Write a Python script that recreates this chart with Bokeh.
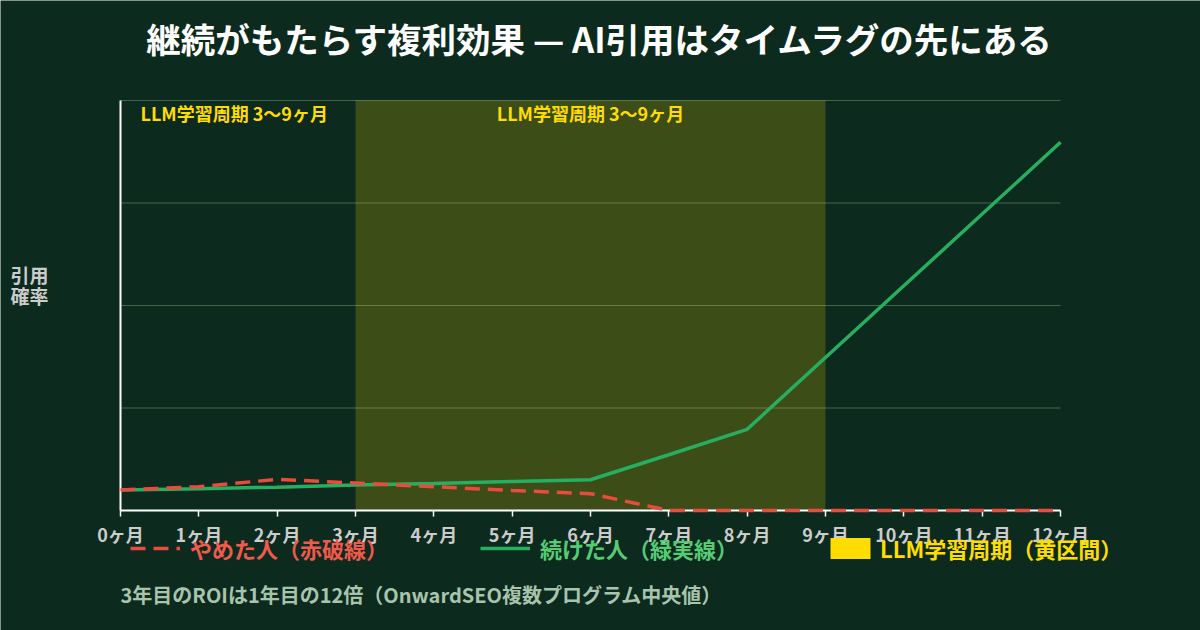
from bokeh.plotting import figure
from bokeh.models import Range1d, FixedTicker, Label, Legend, LegendItem
from bokeh.embed import file_html
from bokeh.resources import INLINE

# ---- data ----
months = [0, 1, 2, 3, 4, 5, 6, 7, 8, 9, 10, 11, 12]
tick_labels = ["0ヶ月", "1ヶ月", "2ヶ月", "3ヶ月", "4ヶ月", "5ヶ月", "6ヶ月",
               "7ヶ月", "8ヶ月", "9ヶ月", "10ヶ月", "11ヶ月", "12ヶ月"]
quit_values = [5.0, 5.8, 7.6, 6.7, 5.8, 4.9, 4.1, 0.0, 0.0, 0.0, 0.0, 0.0, 0.0]
continued_values = [5.0, 5.3, 5.7, 6.2, 6.6, 7.1, 7.5, 13.6, 19.8, 37.3, 54.8, 72.3, 89.8]
llm_start = 3
llm_end = 9
y_min = 0
y_max = 100
grid_values = [25, 50, 75, 100]

title_text = "継続がもたらす複利効果 — AI引用はタイムラグの先にある"
y_label_lines = ["引用", "確率"]
period_note = "LLM学習周期 3〜9ヶ月"
legend_labels = ["やめた人（赤破線）", "続けた人（緑実線）", "LLM学習周期（黄区間）"]
footnote = "3年目のROIは1年目の12倍（OnwardSEO複数プログラム中央値）"

# ---- style / layout (pixels) ----
FONT = "Noto Sans CJK JP"
BG = "#0d2a1e"
RED = "#e74c3c"
GREEN = "#27ae60"
YELLOW = "#ffdd00"
W, H = 1200, 630
PLOT_L, PLOT_R, PLOT_T, PLOT_B = 120, 1060, 100, 510


def px_x(px):
    return months[0] + (px - PLOT_L) * (months[-1] - months[0]) / (PLOT_R - PLOT_L)


def px_y(py):
    return y_min + (PLOT_B - py) * (y_max - y_min) / (PLOT_B - PLOT_T)


p = figure(width=W, height=H, min_border=0,
           x_range=Range1d(px_x(0), px_x(W)), y_range=Range1d(px_y(H), px_y(0)),
           output_backend="svg", toolbar_location=None,
           background_fill_color=BG, border_fill_color=BG, outline_line_color=None)

# gridlines across the plot area only
p.segment(x0=[months[0]] * len(grid_values), x1=[months[-1]] * len(grid_values),
          y0=grid_values, y1=grid_values, line_color="#46664c", line_width=1)

# shaded LLM period
p.quad(left=[llm_start], right=[llm_end], bottom=[y_min], top=[y_max],
       fill_color=YELLOW, fill_alpha=0.2, line_color=None)
legend_box = p.quad(left=[llm_start], right=[llm_end], bottom=[y_min], top=[y_max],
                    fill_color=YELLOW, fill_alpha=1.0, line_color=None, visible=False)

green = p.line(months, continued_values, line_color=GREEN, line_width=3.5)
red = p.line(months, quit_values, line_color=RED, line_width=3.5, line_dash="15 8",
             level="overlay")

# axes, drawn at the data origin
p.xgrid.visible = False
p.ygrid.visible = False

p.xaxis.fixed_location = y_min
p.xaxis.bounds = (months[0], months[-1])
p.xaxis.ticker = FixedTicker(ticks=months)
p.xaxis.major_label_overrides = {m: t for m, t in zip(months, tick_labels)}
p.xaxis.axis_line_color = "white"
p.xaxis.axis_line_width = 2
p.xaxis.major_tick_line_color = "white"
p.xaxis.major_tick_line_width = 1.5
p.xaxis.major_tick_out = 6
p.xaxis.major_tick_in = 0
p.xaxis.minor_tick_line_color = None
p.xaxis.major_label_standoff = 4
p.xaxis.major_label_text_color = "#cccccc"
p.xaxis.major_label_text_font = FONT
p.xaxis.major_label_text_font_size = "18px"
p.xaxis.major_label_text_font_style = "bold"

p.yaxis.fixed_location = months[0]
p.yaxis.bounds = (y_min, y_max)
p.yaxis.ticker = FixedTicker(ticks=[])
p.yaxis.axis_line_color = "white"
p.yaxis.axis_line_width = 2
p.yaxis.major_tick_line_color = None
p.yaxis.minor_tick_line_color = None
p.yaxis.major_label_text_font_size = "0px"

# texts
p.add_layout(Label(x=px_x(600), y=px_y(37), text=title_text, text_align="center",
                   text_baseline="middle", text_font=FONT, text_font_size="34.5px",
                   text_font_style="bold", text_color="white"))
for i, line in enumerate(y_label_lines):
    p.add_layout(Label(x=px_x(10), y=px_y(274 + 21 * i), text=line, text_align="left",
                       text_baseline="middle", text_font=FONT, text_font_size="19px",
                       text_font_style="bold", text_color="#cccccc"))
p.add_layout(Label(x=px_x(140), y=px_y(112), text=period_note, text_align="left",
                   text_baseline="middle", text_font=FONT, text_font_size="18px",
                   text_font_style="bold", text_color=YELLOW))
p.add_layout(Label(x=(llm_start + llm_end) / 2, y=px_y(112), text=period_note,
                   text_align="center", text_baseline="middle", text_font=FONT,
                   text_font_size="18px", text_font_style="bold", text_color=YELLOW))
p.add_layout(Label(x=px_x(120), y=px_y(594), text=footnote, text_align="left",
                   text_baseline="middle", text_font=FONT, text_font_size="20px",
                   text_font_style="bold", text_color="#a8c4ad"))

# legends (one per item so each label keeps its own colour)
legend_specs = [
    (legend_labels[0], red, "#ef5a4c", 130, 10),
    (legend_labels[1], green, "#55cc74", 480, 10),
    (legend_labels[2], legend_box, YELLOW, 825, 5),
]
for label, rend, color, lx, standoff in legend_specs:
    lg = Legend(items=[LegendItem(label=label, renderers=[rend])],
                location=(lx, H - 564), orientation="horizontal",
                glyph_width=50, glyph_height=26, label_height=26,
                label_standoff=standoff, padding=0, margin=0, spacing=0,
                background_fill_alpha=0, border_line_color=None,
                inactive_fill_alpha=0,
                label_text_font=FONT, label_text_font_size="22px",
                label_text_font_style="bold", label_text_color=color)
    p.add_layout(lg)

open("out.html", "w").write(file_html(p, INLINE))
